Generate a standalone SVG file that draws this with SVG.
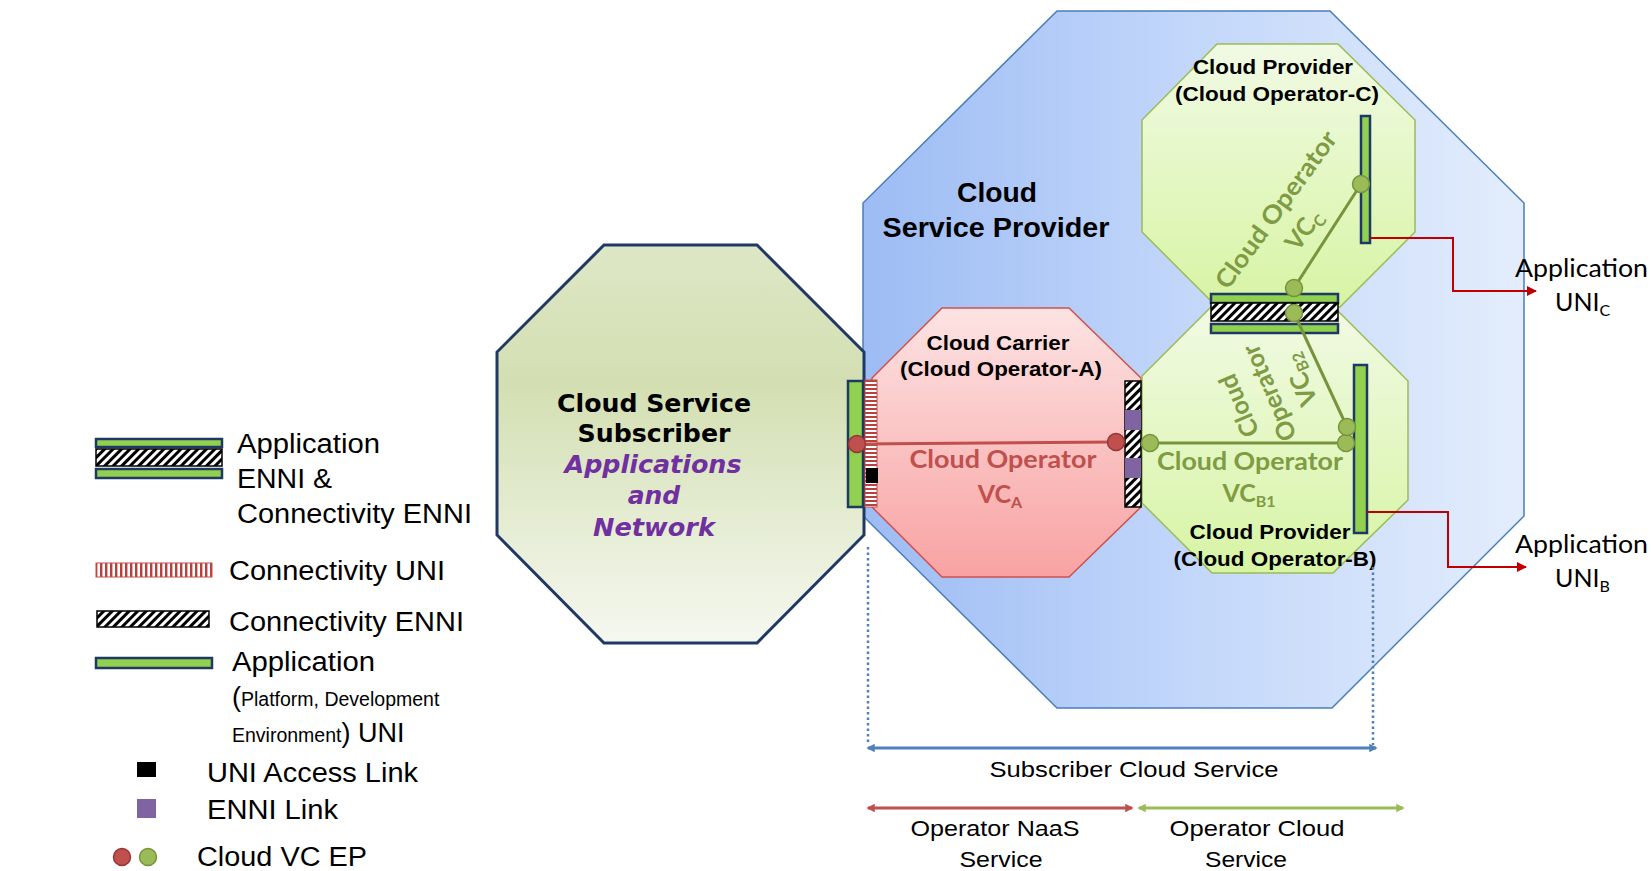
<svg xmlns="http://www.w3.org/2000/svg" width="1651" height="871" viewBox="0 0 1651 871">
<defs>
 <linearGradient id="gCSP" x1="0" y1="0" x2="1" y2="0">
  <stop offset="0" stop-color="#9dbcf4"/>
  <stop offset="0.5" stop-color="#c3d7fa"/>
  <stop offset="1" stop-color="#e3edfc"/>
 </linearGradient>
 <linearGradient id="gSub" x1="0" y1="0" x2="0" y2="1">
  <stop offset="0" stop-color="#dde7c6"/>
  <stop offset="0.35" stop-color="#d3dfb2"/>
  <stop offset="1" stop-color="#f5f8f0"/>
 </linearGradient>
 <linearGradient id="gRed" x1="0" y1="0" x2="0" y2="1">
  <stop offset="0" stop-color="#fde3e3"/>
  <stop offset="1" stop-color="#f8a2a2"/>
 </linearGradient>
 <linearGradient id="gGreen" x1="0" y1="0" x2="0" y2="1">
  <stop offset="0" stop-color="#f1fae4"/>
  <stop offset="1" stop-color="#d7f4a4"/>
 </linearGradient>
 <pattern id="hatch" width="6" height="6" patternUnits="userSpaceOnUse" patternTransform="rotate(45)">
  <rect width="6" height="6" fill="#fff"/>
  <rect width="3" height="6" fill="#000"/>
 </pattern>
 <pattern id="uniV" width="5" height="10" patternUnits="userSpaceOnUse">
  <rect width="5" height="10" fill="#fff"/>
  <rect width="2.4" height="10" fill="#b8403d"/>
 </pattern>
 <pattern id="uniH" width="10" height="4" patternUnits="userSpaceOnUse">
  <rect width="10" height="4" fill="#fff"/>
  <rect width="10" height="2" fill="#b8403d"/>
 </pattern>
 <marker id="arR" viewBox="0 0 10 10" refX="9" refY="5" markerWidth="5" markerHeight="5" orient="auto" markerUnits="strokeWidth">
  <path d="M0,0 L10,5 L0,10 z" fill="#c00000"/>
 </marker>
 <marker id="arBlue" viewBox="0 0 10 10" refX="8" refY="5" markerWidth="2.8" markerHeight="3" orient="auto-start-reverse" markerUnits="strokeWidth">
  <path d="M0,0 L10,5 L0,10 z" fill="#4f81bd"/>
 </marker>
 <marker id="arRed" viewBox="0 0 10 10" refX="8" refY="5" markerWidth="2.8" markerHeight="3" orient="auto-start-reverse" markerUnits="strokeWidth">
  <path d="M0,0 L10,5 L0,10 z" fill="#c0504d"/>
 </marker>
 <marker id="arGreen" viewBox="0 0 10 10" refX="8" refY="5" markerWidth="2.8" markerHeight="3" orient="auto-start-reverse" markerUnits="strokeWidth">
  <path d="M0,0 L10,5 L0,10 z" fill="#9bbb59"/>
 </marker>
</defs>
<style>
 .app { fill:#92d050; stroke:#1f3864; stroke-width:2.5; }
 .hat { fill:url(#hatch); stroke:#000; stroke-width:1.5; }
 .pur { fill:#8064a2; }
 .rdot { fill:#c0504d; stroke:#963634; stroke-width:1.5; }
 .gdot { fill:#9bbb59; stroke:#77933c; stroke-width:1.5; }
 .lbl { font-family:"Liberation Sans", Arial, sans-serif; font-weight:bold; font-size:21px; fill:#000; text-anchor:middle; }
 .big { font-family:"Liberation Sans", Arial, sans-serif; font-weight:bold; font-size:27px; fill:#000; text-anchor:middle; }
 .vcr { font-family:Lato, "Liberation Sans", sans-serif; font-weight:bold; font-size:25px; fill:#c0504d; text-anchor:middle; }
 .vcg { font-family:Lato, "Liberation Sans", sans-serif; font-weight:bold; font-size:25px; fill:#7f9b43; text-anchor:middle; }
 .leg { font-family:"Liberation Sans", Arial, sans-serif; font-size:27px; fill:#000; }
 .sml { font-size:19.5px; }
 .dim { font-family:"Liberation Sans", Arial, sans-serif; font-size:22px; fill:#000; text-anchor:middle; }
 .uni { font-family:Lato, "Liberation Sans", sans-serif; font-size:25px; fill:#000; }
 .sub { font-size:16px; }
</style>

<g id="cloud-service-provider">
 <polygon points="1057,11 1330,11 1524,203 1524,516 1332,708 1057,708 863,516 863,203" fill="url(#gCSP)" stroke="#4a7ebb" stroke-width="1.5"/>
 <text class="big" x="997" y="202" textLength="80" lengthAdjust="spacingAndGlyphs">Cloud</text>
 <text class="big" x="996" y="237" textLength="227" lengthAdjust="spacingAndGlyphs">Service Provider</text>
</g>

<g id="cloud-service-subscriber">
 <polygon points="604,245 757,245 864,352 864,535 757,643 604,643 497,535 497,352" fill="url(#gSub)" stroke="#1f3864" stroke-width="3"/>
 <g font-family="'DejaVu Sans', Verdana, sans-serif" font-weight="bold" font-size="25" text-anchor="middle">
  <text x="654" y="412" fill="#000" textLength="194" lengthAdjust="spacingAndGlyphs">Cloud Service</text>
  <text x="654" y="442" fill="#000" textLength="153" lengthAdjust="spacingAndGlyphs">Subscriber</text>
  <text x="653" y="473" fill="#7030a0" font-style="italic" textLength="177" lengthAdjust="spacingAndGlyphs">Applications</text>
  <text x="654" y="504" fill="#7030a0" font-style="italic">and</text>
  <text x="654" y="536" fill="#7030a0" font-style="italic" textLength="122" lengthAdjust="spacingAndGlyphs">Network</text>
 </g>
</g>

<g id="cloud-carrier-a">
 <polygon points="942,308 1069,308 1141,378 1141,507 1069,577 942,577 872,507 872,378" fill="url(#gRed)" stroke="#d0504d" stroke-width="1.5"/>
 <text class="lbl" x="998" y="350" textLength="143" lengthAdjust="spacingAndGlyphs">Cloud Carrier</text>
 <text class="lbl" x="1001" y="376" textLength="202" lengthAdjust="spacingAndGlyphs">(Cloud Operator-A)</text>
 <text class="vcr" x="1003" y="468" textLength="187" lengthAdjust="spacingAndGlyphs">Cloud Operator</text>
 <text class="vcr" x="1000" y="503">VC<tspan class="sub" dy="5">A</tspan></text>
</g>

<g id="cloud-provider-c">
 <polygon points="1217,44 1338,44 1415,120 1415,232 1340,307 1217,307 1142,232 1142,120" fill="url(#gGreen)" stroke="#9bbb59" stroke-width="1.5"/>
 <text class="lbl" x="1273" y="74" textLength="160" lengthAdjust="spacingAndGlyphs">Cloud Provider</text>
 <text class="lbl" x="1277" y="101" textLength="204" lengthAdjust="spacingAndGlyphs">(Cloud Operator-C)</text>
 <g transform="translate(1289.5,219.5) rotate(-54)">
  <text class="vcg" x="0" y="-8" textLength="188" lengthAdjust="spacingAndGlyphs">Cloud Operator</text>
  <text class="vcg" x="0" y="26">VC<tspan class="sub" dy="5">C</tspan></text>
 </g>
</g>

<g id="cloud-provider-b">
 <polygon points="1212,306 1333,306 1408,381 1408,500 1333,573 1212,573 1142,503 1142,376" fill="url(#gGreen)" stroke="#9bbb59" stroke-width="1.5"/>
 <text class="lbl" x="1270" y="539" textLength="161" lengthAdjust="spacingAndGlyphs">Cloud Provider</text>
 <text class="lbl" x="1275" y="566" textLength="203" lengthAdjust="spacingAndGlyphs">(Cloud Operator-B)</text>
 <text class="vcg" x="1250" y="470" textLength="186" lengthAdjust="spacingAndGlyphs">Cloud Operator</text>
 <text class="vcg" x="1249" y="502">VC<tspan class="sub" dy="5">B1</tspan></text>
 <g transform="translate(1269,393) rotate(-113)">
  <text class="vcg" x="0" y="-24">Cloud</text>
  <text class="vcg" x="0" y="9">Operator</text>
  <text class="vcg" x="0" y="42">VC<tspan class="sub" dy="5">B2</tspan></text>
 </g>
</g>

<g id="interfaces">
 <rect class="app" x="848" y="381" width="15" height="126"/>
 <rect x="865" y="380" width="12" height="127" fill="url(#uniH)" stroke="#c0504d" stroke-width="1"/>
 <rect x="866" y="468" width="12" height="15" fill="#000"/>
 <rect class="hat" x="1125" y="381" width="16" height="126"/>
 <rect class="pur" x="1125" y="410" width="16" height="20"/>
 <rect class="pur" x="1125" y="458" width="16" height="20"/>
 <rect class="app" x="1211" y="294" width="127" height="9"/>
 <rect class="hat" x="1211" y="303" width="127" height="18"/>
 <rect class="app" x="1211" y="324" width="127" height="9"/>
 <rect class="app" x="1354" y="365" width="13" height="168"/>
 <rect class="app" x="1361" y="116" width="9" height="127"/>
</g>

<g id="connectors">
 <line x1="857" y1="444" x2="1116" y2="442" stroke="#c0504d" stroke-width="3"/>
 <line x1="1150" y1="443" x2="1346" y2="443" stroke="#77933c" stroke-width="3"/>
 <line x1="1294" y1="313" x2="1347" y2="427" stroke="#77933c" stroke-width="3"/>
 <line x1="1294" y1="288" x2="1361" y2="184" stroke="#77933c" stroke-width="3"/>
 <circle class="rdot" cx="857" cy="444" r="8.5"/>
 <circle class="rdot" cx="1116" cy="442" r="8.5"/>
 <circle class="gdot" cx="1150" cy="443" r="8.5"/>
 <circle class="gdot" cx="1346" cy="443" r="8.5"/>
 <circle class="gdot" cx="1347" cy="427" r="8.5"/>
 <circle class="gdot" cx="1294" cy="313" r="8.5"/>
 <circle class="gdot" cx="1294" cy="288" r="8.5"/>
 <circle class="gdot" cx="1361" cy="184" r="8.5"/>
 <polyline points="1370,238 1453,238 1453,291 1536,291" fill="none" stroke="#c00000" stroke-width="2" marker-end="url(#arR)"/>
 <polyline points="1367,512 1448,512 1448,567 1526,567" fill="none" stroke="#c00000" stroke-width="2" marker-end="url(#arR)"/>
 <line x1="868" y1="547" x2="868" y2="745" stroke="#4f81bd" stroke-width="2.5" stroke-dasharray="2.5 3"/>
 <line x1="1373" y1="567" x2="1373" y2="745" stroke="#4f81bd" stroke-width="2.5" stroke-dasharray="2.5 3"/>
 <line x1="868" y1="748" x2="1376" y2="748" stroke="#4f81bd" stroke-width="3" marker-start="url(#arBlue)" marker-end="url(#arBlue)"/>
 <line x1="868" y1="808" x2="1132" y2="808" stroke="#c0504d" stroke-width="3" marker-start="url(#arRed)" marker-end="url(#arRed)"/>
 <line x1="1139" y1="808" x2="1403" y2="808" stroke="#9bbb59" stroke-width="3" marker-start="url(#arGreen)" marker-end="url(#arGreen)"/>
</g>

<g id="application-uni-c">
 <text class="uni" x="1515" y="277" textLength="133" lengthAdjust="spacingAndGlyphs">Application</text>
 <text class="uni" x="1555" y="311">UNI<tspan class="sub" dy="5">C</tspan></text>
</g>
<g id="application-uni-b">
 <text class="uni" x="1515" y="553" textLength="133" lengthAdjust="spacingAndGlyphs">Application</text>
 <text class="uni" x="1555" y="587">UNI<tspan class="sub" dy="5">B</tspan></text>
</g>

<g id="service-labels">
 <text class="dim" x="1134" y="777" textLength="289" lengthAdjust="spacingAndGlyphs">Subscriber Cloud Service</text>
 <text class="dim" x="995" y="836" textLength="169" lengthAdjust="spacingAndGlyphs">Operator NaaS</text>
 <text class="dim" x="1001" y="867" textLength="83" lengthAdjust="spacingAndGlyphs">Service</text>
 <text class="dim" x="1257" y="836" textLength="175" lengthAdjust="spacingAndGlyphs">Operator Cloud</text>
 <text class="dim" x="1246" y="867" textLength="82" lengthAdjust="spacingAndGlyphs">Service</text>
</g>

<g id="legend">
 <rect class="app" x="96" y="439" width="126" height="8"/>
 <rect class="hat" x="96" y="449" width="126" height="17"/>
 <rect class="app" x="96" y="469" width="126" height="9"/>
 <text class="leg" x="237" y="453" textLength="143" lengthAdjust="spacingAndGlyphs">Application</text>
 <text class="leg" x="237" y="488" textLength="95" lengthAdjust="spacingAndGlyphs">ENNI &amp;</text>
 <text class="leg" x="237" y="523" textLength="235" lengthAdjust="spacingAndGlyphs">Connectivity ENNI</text>
 <rect x="96" y="563" width="116" height="14" fill="url(#uniV)" stroke="#c0504d" stroke-width="1"/>
 <text class="leg" x="229" y="580" textLength="216" lengthAdjust="spacingAndGlyphs">Connectivity UNI</text>
 <rect class="hat" x="97" y="611" width="112" height="16"/>
 <text class="leg" x="229" y="631" textLength="235" lengthAdjust="spacingAndGlyphs">Connectivity ENNI</text>
 <rect class="app" x="96" y="658" width="116" height="10"/>
 <text class="leg" x="232" y="671" textLength="143" lengthAdjust="spacingAndGlyphs">Application</text>
 <text class="leg" x="232" y="706">(<tspan class="sml">Platform, Development</tspan></text>
 <text class="leg" x="232" y="742"><tspan class="sml">Environment</tspan>) UNI</text>
 <rect x="137" y="762" width="19" height="15" fill="#000"/>
 <text class="leg" x="207" y="782" textLength="211" lengthAdjust="spacingAndGlyphs">UNI Access Link</text>
 <rect class="pur" x="137" y="799" width="19" height="19"/>
 <text class="leg" x="207" y="819" textLength="131" lengthAdjust="spacingAndGlyphs">ENNI Link</text>
 <circle class="rdot" cx="122" cy="857" r="8.5"/>
 <circle class="gdot" cx="148" cy="857" r="8.5"/>
 <text class="leg" x="197" y="866" textLength="170" lengthAdjust="spacingAndGlyphs">Cloud VC EP</text>
</g>
</svg>
